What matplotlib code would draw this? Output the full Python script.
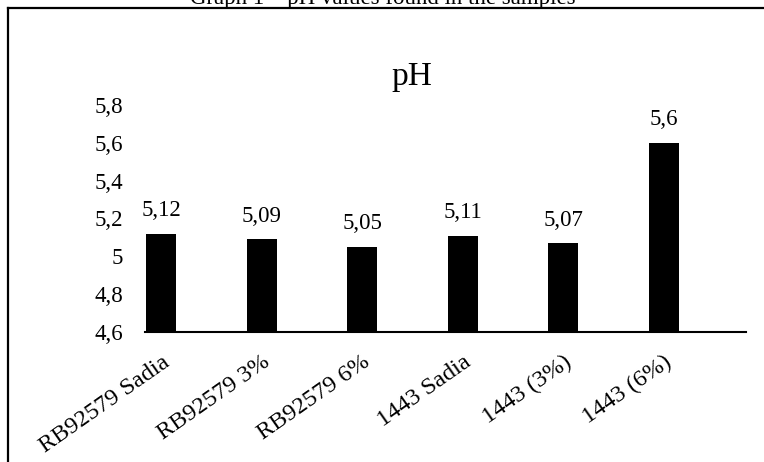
import matplotlib
matplotlib.use('Agg')
import matplotlib.pyplot as plt
from matplotlib.lines import Line2D

samples = ['RB92579 Sadia', 'RB92579 3%', 'RB92579 6%', '1443 Sadia', '1443 (3%)', '1443 (6%)']
ph = [5.12, 5.09, 5.05, 5.11, 5.07, 5.6]
yticks = [4.6, 4.8, 5.0, 5.2, 5.4, 5.6, 5.8]
ytick_labels = ['4,6', '4,8', '5', '5,2', '5,4', '5,6', '5,8']

plt.rcParams['font.family'] = ['Liberation Serif', 'DejaVu Serif']

W, H = 764, 462
fig = plt.figure(figsize=(W / 100, H / 100), dpi=100)
ax = fig.add_axes([145 / W, 1 - 332 / H, 601 / W, 227 / H])

x = list(range(len(samples)))
bars = ax.bar(x, ph, width=0.3, color='black')
ax.bar_label(bars, labels=[f'{v:g}'.replace('.', ',') for v in ph], padding=9, fontsize=16.5)

ax.set_ylim(4.6, 5.8)
ax.set_xlim(-0.16, 5.82)
ax.set_yticks(yticks)
ax.set_yticklabels(ytick_labels, fontsize=16.5)
ax.set_xticks(x)
ax.set_xticklabels(samples, fontsize=17.5, rotation=35, ha='right', va='top', rotation_mode='anchor')
ax.tick_params(axis='y', length=0, pad=16)
ax.tick_params(axis='x', length=0, pad=14)
for s in ['top', 'right', 'left']:
    ax.spines[s].set_visible(False)
ax.spines['bottom'].set_linewidth(1.5)

fig.text(412 / W, 1 - 85 / H, 'pH', fontsize=24, ha='center', va='baseline')
fig.text(383 / W, 1 - 4 / H, 'Graph 1 \u2013 pH values found in the samples', fontsize=16.5,
         ha='center', va='baseline')

# frame around the chart, cut off at right and bottom
fig.add_artist(Line2D([8 / W, 1], [1 - 8 / H, 1 - 8 / H], transform=fig.transFigure, color='black', lw=1.6))
fig.add_artist(Line2D([8 / W, 8 / W], [0, 1 - 8 / H], transform=fig.transFigure, color='black', lw=1.6))

fig.savefig('out.png', dpi=100)
